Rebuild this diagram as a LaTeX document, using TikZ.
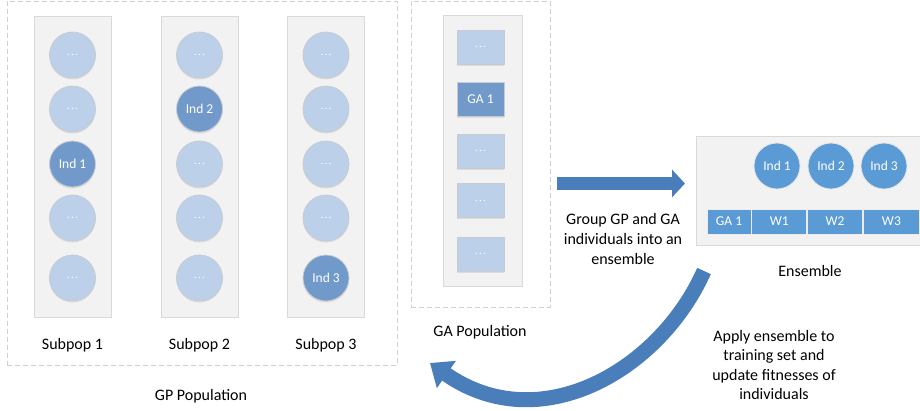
\documentclass[tikz,border=0pt]{standalone}
\usepackage{fontspec}
\setmainfont{Carlito}
\usepackage{xcolor}
\usetikzlibrary{arrows.meta, positioning, shadows}

\definecolor{popline}{HTML}{D0D0D0}
\definecolor{colline}{HTML}{D9D9D9}
\definecolor{colfill}{HTML}{F2F2F2}
\definecolor{indline}{HTML}{C8CCD2}
\definecolor{indlight}{HTML}{BCD0E9}
\definecolor{inddark}{HTML}{7199C9}
\definecolor{ensblue}{HTML}{5B9BD5}
\definecolor{arrowblue}{HTML}{4A7EBB}

\newcommand{\popdots}{{\fontsize{11}{11}\selectfont .\hspace{1.2pt}.\hspace{1.2pt}.}}

\begin{document}
\begin{tikzpicture}[
  x=1pt, y=-1pt,
  font=\fontsize{16}{20}\selectfont,
  popbox/.style  = {rectangle, draw=popline, dash pattern=on 5pt off 3pt, line width=0.8pt},
  colbox/.style  = {rectangle, draw=colline, fill=colfill, line width=0.8pt, inner sep=0pt},
  ind/.style     = {circle, draw=indline, fill=indlight, line width=0.8pt, minimum size=46pt,
                    inner sep=0pt, text=white, font=\fontsize{13.5}{16}\selectfont,
                    drop shadow={shadow xshift=0pt, shadow yshift=-1.5pt, opacity=0.2, fill=black!50}},
  gaind/.style   = {rectangle, draw=indline, fill=indlight, line width=0.8pt, minimum width=47pt,
                    minimum height=34pt, inner sep=0pt, text=white, font=\fontsize{13.5}{16}\selectfont,
                    drop shadow={shadow xshift=0pt, shadow yshift=-1.5pt, opacity=0.2, fill=black!50}},
  ensind/.style  = {circle, draw=white!80!gray, fill=ensblue, line width=0.8pt, minimum size=46pt,
                    inner sep=0pt, text=white, font=\fontsize{13.5}{16}\selectfont},
  wbar/.style    = {rectangle, draw=white!85!gray, fill=ensblue, line width=0.8pt, minimum height=25pt,
                    inner sep=0pt, text=white, font=\fontsize{13.5}{16}\selectfont},
  blockarrow/.style = {draw=arrowblue, line width=13pt, -{Triangle[width=27pt, length=13pt]}}
]
\useasboundingbox (0,0) rectangle (920,410);

% GP population with its three subpopulations
\node[popbox, minimum width=390pt, minimum height=364pt] (gppop) at (202,183) {};
\node (gplab) at (201,396) {GP Population};

\foreach \col/\x/\sel in {1/72.5/3, 2/199.5/2, 3/326/5} {
  \node[colbox, minimum width=77pt, minimum height=301pt] (sp\col) at (\x,166.5) {};
  \node (splab\col) at (\x,345) {Subpop \col};
  \foreach \row/\y in {1/55, 2/109, 3/164, 4/218, 5/278} {
    \ifnum\row=\sel
      \node[ind, fill=inddark] (ind\col\row) at (\x,\y) {Ind \col};
    \else
      \node[ind] (ind\col\row) at (\x,\y) {\popdots};
    \fi
  }
}

% GA population
\node[popbox, minimum width=139pt, minimum height=306pt] (gapop) at (480.5,154) {};
\node[colbox, minimum width=79pt, minimum height=271pt] (gacol) at (482.5,150.5) {};
\node (galab) at (480,332) {GA Population};
\foreach \row/\y in {1/47, 2/99.5, 3/151, 4/200.5, 5/254} {
  \ifnum\row=2
    \node[gaind, fill=inddark] (ga\row) at (480.5,\y) {GA 1};
  \else
    \node[gaind] (ga\row) at (480.5,\y) {\popdots};
  \fi
}

% Ensemble
\node[colbox, minimum width=226pt, minimum height=109pt] (ens) at (809,190.5) {};
\node (enslab) at (810,271) {Ensemble};
\node[ensind] (e1) at (777,166) {Ind 1};
\node[ensind] (e2) at (831,166) {Ind 2};
\node[ensind] (e3) at (884,166) {Ind 3};
\node[wbar, minimum width=44pt] (bga) at (729,221.5) {GA 1};
\node[wbar, minimum width=55pt, right=0pt of bga] (bw1) {W1};
\node[wbar, minimum width=55pt, right=0pt of bw1] (bw2) {W2};
\node[wbar, minimum width=56pt, right=0pt of bw2] (bw3) {W3};

% Group arrow
\coordinate (grpS) at (557,183.5);
\coordinate (grpE) at (685,183.5);
\draw[blockarrow] (grpS) -- (grpE);
\node[align=center] (grptxt) at (623,239) {Group GP and GA\\individuals into an\\ensemble};

% Feedback arrow
\coordinate (appS) at (704,271);
\coordinate (appE) at (430,363);
\draw[blockarrow, line width=15pt, -{Triangle[width=32pt, length=20pt]}]
  (appS) .. controls (660,370) and (540,440) .. (appE);
\node[align=center, font=\fontsize{16}{19.5}\selectfont] (apptxt) at (774,365)
  {Apply ensemble to\\training set and\\update fitnesses of\\individuals};

\end{tikzpicture}
\end{document}
